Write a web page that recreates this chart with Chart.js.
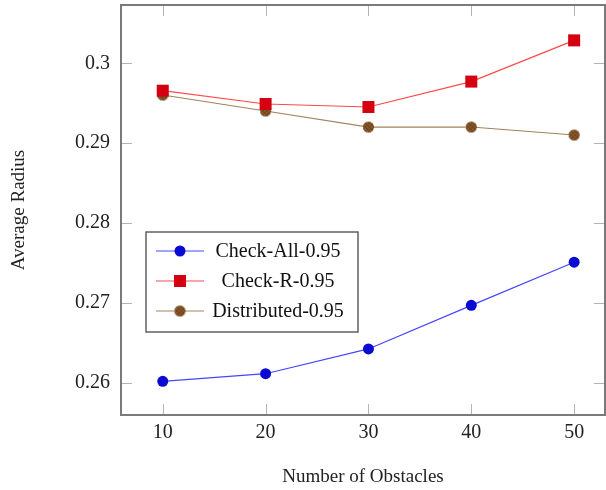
<!DOCTYPE html>
<html>
<head>
<meta charset="utf-8">
<script src="https://cdn.jsdelivr.net/npm/chart.js@4/dist/chart.umd.min.js"></script>
<style>
  html, body { margin: 0; background: #fff; overflow: hidden; }
  canvas { display: block; }
</style>
</head>
<body>
<canvas id="chart" width="606" height="490"></canvas>
<script>
const obstacles = [10, 20, 30, 40, 50];
const checkAll = [0.26018, 0.26113, 0.26423, 0.26969, 0.27509];
const checkR = [0.29657, 0.29490, 0.29453, 0.29771, 0.30287];
const distributed = [0.29603, 0.29403, 0.29202, 0.29202, 0.29102];
const xTicks = [10, 20, 30, 40, 50];
const yTicks = [0.26, 0.27, 0.28, 0.29, 0.3];

// brown dot with a little cross hatch, like the pgfplots marker
function hatchedDot(r, fill, line) {
  const c = document.createElement('canvas');
  c.width = c.height = 2 * r + 2;
  const g = c.getContext('2d');
  const m = r + 1;
  g.fillStyle = fill;
  g.beginPath(); g.arc(m, m, r, 0, Math.PI * 2); g.fill();
  g.save();
  g.clip();
  g.strokeStyle = line; g.lineWidth = 0.8;
  g.beginPath();
  for (let k = -2 * r; k <= 2 * r; k += 4) {
    g.moveTo(m + k - r, m - r); g.lineTo(m + k + r, m + r);
    g.moveTo(m + k + r, m - r); g.lineTo(m + k - r, m + r);
  }
  g.stroke();
  g.restore();
  return c;
}
const brownDot = hatchedDot(5.5, '#8c5a2b', 'rgba(60,35,10,0.55)');

const pts = arr => arr.map((v, i) => ({ x: obstacles[i], y: v }));

const axisFrame = {
  id: 'axisFrame',
  beforeDatasetsDraw(chart) {
    const { ctx, chartArea: a, scales: { x, y } } = chart;
    ctx.save();
    ctx.strokeStyle = '#b4b4b4';
    ctx.lineWidth = 1;
    ctx.beginPath();
    xTicks.forEach(v => {
      const px = Math.round(x.getPixelForValue(v)) + 0.5;
      ctx.moveTo(px, a.bottom); ctx.lineTo(px, a.bottom - 11);
      ctx.moveTo(px, a.top); ctx.lineTo(px, a.top + 11);
    });
    yTicks.forEach(v => {
      const py = Math.round(y.getPixelForValue(v)) + 0.5;
      ctx.moveTo(a.left, py); ctx.lineTo(a.left + 11, py);
      ctx.moveTo(a.right, py); ctx.lineTo(a.right - 11, py);
    });
    ctx.stroke();
    ctx.restore();
  },
  afterDatasetsDraw(chart) {
    const { ctx, chartArea: a } = chart;
    ctx.save();
    ctx.strokeStyle = '#7a7a7a';
    ctx.lineWidth = 2;
    ctx.strokeRect(a.left, a.top, a.right - a.left, a.bottom - a.top);
    ctx.restore();
  }
};

const legendBox = {
  id: 'legendBox',
  afterDraw(chart) {
    const { ctx, chartArea: a } = chart;
    const x0 = a.left + 25, y0 = a.top + 227, w = 212, h = 100;
    ctx.save();
    ctx.fillStyle = '#fff';
    ctx.fillRect(x0, y0, w, h);
    ctx.strokeStyle = '#606060';
    ctx.lineWidth = 1.5;
    ctx.strokeRect(x0, y0, w, h);
    chart.data.datasets.forEach((ds, i) => {
      const cy = y0 + 19 + i * 30;
      const mx = x0 + 34;
      ctx.strokeStyle = ds.borderColor;
      ctx.lineWidth = 1;
      ctx.beginPath(); ctx.moveTo(x0 + 10, cy); ctx.lineTo(x0 + 58, cy); ctx.stroke();
      ctx.fillStyle = ds.pointBackgroundColor;
      if (ds.pointStyle === 'rect') {
        ctx.fillRect(mx - 6, cy - 6, 12, 12);
      } else if (ds.pointStyle === 'circle') {
        ctx.beginPath(); ctx.arc(mx, cy, ds.pointRadius, 0, Math.PI * 2); ctx.fill();
      } else {
        ctx.drawImage(ds.pointStyle, mx - ds.pointStyle.width / 2, cy - ds.pointStyle.height / 2);
      }
      ctx.fillStyle = '#111';
      ctx.font = '20px "Liberation Serif"';
      ctx.textAlign = 'center';
      ctx.textBaseline = 'middle';
      ctx.fillText(ds.label, x0 + 132, cy + 1);
    });
    ctx.restore();
  }
};

Chart.defaults.font.family = '"Liberation Serif", serif';
Chart.defaults.color = '#222';

new Chart(document.getElementById('chart').getContext('2d'), {
  type: 'line',
  data: {
    datasets: [
      {
        label: 'Check-All-0.95',
        data: pts(checkAll),
        borderColor: '#4646ff',
        borderWidth: 1.2,
        pointStyle: 'circle',
        pointRadius: 5.5,
        pointBackgroundColor: '#0a0ad2',
        pointBorderColor: '#0a0ad2',
        pointBorderWidth: 0,
      },
      {
        label: 'Check-R-0.95',
        data: pts(checkR),
        borderColor: '#ff4a4a',
        borderWidth: 1.2,
        pointStyle: 'rect',
        pointRadius: 8.5,
        pointBackgroundColor: '#d40012',
        pointBorderColor: '#d40012',
        pointBorderWidth: 0,
      },
      {
        label: 'Distributed-0.95',
        data: pts(distributed),
        borderColor: '#a2825c',
        borderWidth: 1.2,
        pointStyle: brownDot,
        pointRadius: 5.5,
        pointBackgroundColor: '#8c5a2b',
        pointBorderColor: '#8c5a2b',
        pointBorderWidth: 0,
      },
    ],
  },
  options: {
    responsive: false,
    animation: false,
    events: [],
    layout: { autoPadding: false, padding: { top: 5, right: 1, left: 0, bottom: 0 } },
    plugins: {
      legend: { display: false },
      tooltip: { enabled: false },
    },
    scales: {
      x: {
        type: 'linear',
        min: 5.94,
        max: 53.0,
        afterBuildTicks: s => { s.ticks = xTicks.map(v => ({ value: v })); },
        afterFit: s => { s.height = 75; s.paddingLeft = 0; s.paddingRight = 0; },
        grid: { display: false, drawTicks: false },
        border: { display: false },
        ticks: { padding: 6, color: '#222', font: { size: 20 } },
        title: {
          display: true,
          text: 'Number of Obstacles',
          color: '#222',
          font: { size: 19 },
          padding: { top: 0, bottom: 2 },
        },
      },
      y: {
        type: 'linear',
        min: 0.25596,
        max: 0.3073,
        afterBuildTicks: s => { s.ticks = yTicks.map(v => ({ value: v })); },
        afterFit: s => { s.width = 121; s.paddingTop = 0; s.paddingBottom = 0; },
        grid: { display: false, drawTicks: false },
        border: { display: false },
        ticks: {
          padding: 11,
          color: '#222',
          font: { size: 20 },
          callback: v => String(Number(v.toFixed(2))),
        },
        title: {
          display: true,
          text: 'Average Radius',
          color: '#222',
          font: { size: 19 },
          padding: { top: 8, bottom: 0 },
        },
      },
    },
  },
  plugins: [axisFrame, legendBox],
});
</script>
</body>
</html>
